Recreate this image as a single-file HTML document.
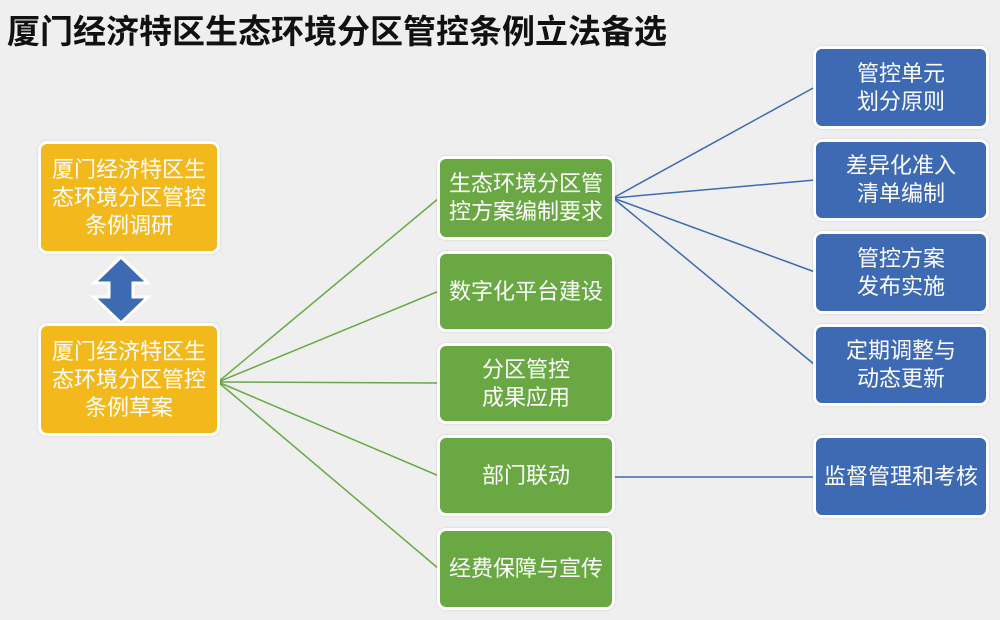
<!DOCTYPE html>
<html><head><meta charset="utf-8"><style>
body{margin:0;width:1000px;height:620px;background:#efefef;position:relative;overflow:hidden;font-family:"Liberation Sans","Noto Sans CJK SC",sans-serif}
.t{position:absolute;left:7px;top:5px;font-size:33px;font-weight:bold;color:#111;letter-spacing:0}
.b{position:absolute;box-sizing:border-box;border:3px solid #fff;border-radius:9px;color:#fff;display:flex;align-items:center;justify-content:center;text-align:center;font-size:22px;line-height:28px;box-shadow:0 0 2px rgba(0,0,0,.15)}
.y{background:#f3b81c;left:38px;width:182px;height:113px}
.g{background:#6aa844;left:437px;width:178px}
.u{background:#3d6ab2;left:813px;width:176px}
svg{position:absolute;left:0;top:0}
</style></head><body>
<div class="t">厦门经济特区生态环境分区管控条例立法备选</div>
<svg width="1000" height="620">
<g stroke="#6aa844" stroke-width="1.5" fill="none">
<line x1="218" y1="382" x2="439" y2="198"/><line x1="218" y1="382" x2="439" y2="291"/>
<line x1="218" y1="382" x2="439" y2="383"/><line x1="218" y1="382" x2="439" y2="476"/>
<line x1="218" y1="382" x2="439" y2="569"/></g>
<g stroke="#3d6ab2" stroke-width="1.5" fill="none">
<line x1="613" y1="198" x2="815" y2="87"/><line x1="613" y1="198" x2="815" y2="180"/>
<line x1="613" y1="198" x2="815" y2="272"/><line x1="613" y1="198" x2="815" y2="365"/>
<line x1="613" y1="477" x2="815" y2="477"/></g>
<polygon points="121,257 148,283 133,283 133,297 148,297 121,323 94,297 109,297 109,283 94,283" fill="#3d6ab2" stroke="#fff" stroke-width="3" stroke-linejoin="miter"/>
</svg>
<div class="b y" style="top:141px">厦门经济特区生<br>态环境分区管控<br>条例调研</div>
<div class="b y" style="top:323px">厦门经济特区生<br>态环境分区管控<br>条例草案</div>
<div class="b g" style="top:156px;height:84px">生态环境分区管<br>控方案编制要求</div>
<div class="b g" style="top:251px;height:81px">数字化平台建设</div>
<div class="b g" style="top:343px;height:81px">分区管控<br>成果应用</div>
<div class="b g" style="top:435px;height:81px">部门联动</div>
<div class="b g" style="top:528px;height:82px">经费保障与宣传</div>
<div class="b u" style="top:46px;height:83px">管控单元<br>划分原则</div>
<div class="b u" style="top:139px;height:82px">差异化准入<br>清单编制</div>
<div class="b u" style="top:231px;height:83px">管控方案<br>发布实施</div>
<div class="b u" style="top:324px;height:82px">定期调整与<br>动态更新</div>
<div class="b u" style="top:435px;height:83px">监督管理和考核</div>
</body></html>
